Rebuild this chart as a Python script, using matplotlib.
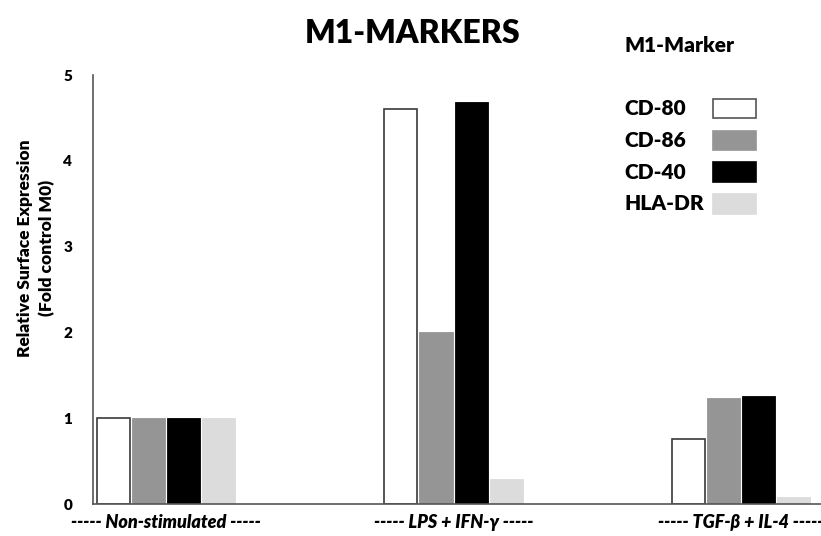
import numpy as np
import matplotlib.pyplot as plt
from matplotlib.patches import Rectangle

#--------data--------
conditions = ["----- Non-stimulated -----", "----- LPS + IFN-γ -----", "----- TGF-β + IL-4 -----"]
markers = ["CD-80", "CD-86", "CD-40", "HLA-DR"]
cd80 = [1.00, 4.60, 0.76]
cd86 = [1.00, 2.00, 1.24]
cd40 = [1.00, 4.69, 1.26]
hladr = [1.00, 0.29, 0.08]
#--------style--------
face_all = ("white", "#959595", "black", "#dcdcdc")
edge_all = ("#3a3a3a", "#959595", "black", "#dcdcdc")

plt.rcParams["font.family"] = ["Lato", "DejaVu Sans"]

fig = plt.figure(figsize=(8.21, 5.36), dpi=100)
ax = fig.add_axes([0.1133, 0.0597, 0.8867, 0.8003])

x = np.arange(len(conditions))
width = 0.115
step = 0.122
series = (cd80, cd86, cd40, hladr)
for i, (vals, fc, ec) in enumerate(zip(series, face_all, edge_all)):
  ax.bar(x + (i - 1.5) * step, vals, width, color=fc, edgecolor=ec,
         linewidth=1.2 if i == 0 else 0.6)

ax.set_xlim(-0.254, 2.278)
ax.set_ylim(0, 5)
ax.set_yticks(range(6))
ax.set_yticklabels([str(v) for v in range(6)], fontsize=11, fontweight="heavy")
ax.tick_params(axis="y", length=0, pad=15)
ax.set_xticks(x)
ax.set_xticklabels(conditions, fontsize=13, fontweight="heavy", style="italic")
ax.tick_params(axis="x", length=0, pad=7)

for side in ("top", "right"):
  ax.spines[side].set_visible(False)
ax.spines["left"].set_color("#555555")
ax.spines["bottom"].set_color("#555555")
ax.spines["left"].set_linewidth(1.2)
ax.spines["bottom"].set_linewidth(1.2)

ax.set_ylabel("Relative Surface Expression\n(Fold control M0)", fontsize=12.5,
              fontweight="heavy", linespacing=1.45)
ax.yaxis.set_label_coords(-0.052, 0.597)

fig.text(0.503, 0.938, "M1-MARKERS", fontsize=23, fontweight="heavy",
         ha="center", va="center")

# marker key at the upper right
fig.text(0.761, 0.916, "M1-Marker", fontsize=15, fontweight="heavy", va="center")
for k, (name, fc, ec) in enumerate(zip(markers, face_all, edge_all)):
  yc = 0.798 - k * 0.0595
  fig.text(0.761, yc, name, fontsize=15, fontweight="heavy", va="center")
  fig.patches.append(Rectangle((0.869, yc - 0.018), 0.052, 0.036,
                               transform=fig.transFigure, facecolor=fc,
                               edgecolor="#555555" if k == 0 else fc, lw=1.2))

plt.savefig("out.png", dpi=100)
